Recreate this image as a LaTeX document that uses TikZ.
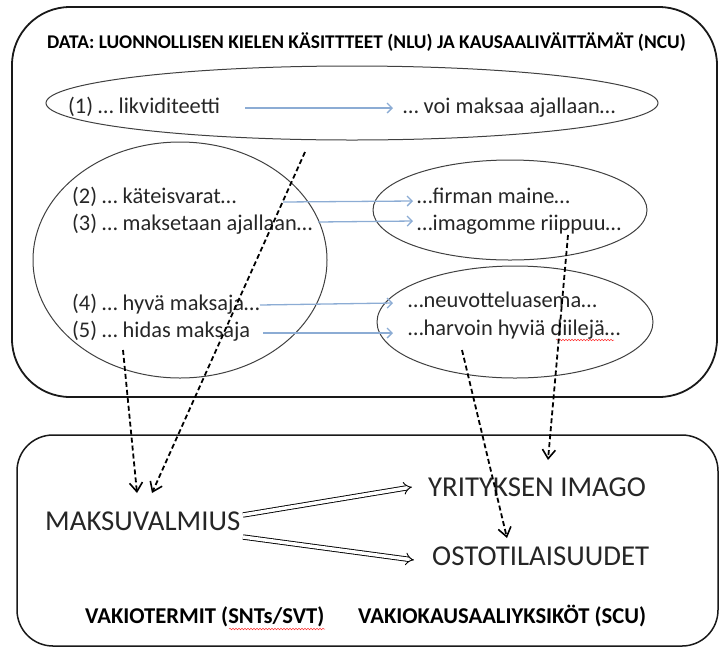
\documentclass[tikz,border=0pt]{standalone}
\usepackage{fontspec}
\setmainfont{Carlito}
\usetikzlibrary{arrows.meta,shapes.geometric,decorations.pathmorphing}
\definecolor{linkblue}{RGB}{140,172,212}
\definecolor{ink}{RGB}{38,38,38}
\begin{document}
\begin{tikzpicture}[x=1pt,y=-1pt,
  panel/.style={draw=black!90, line width=1.8pt},
  group/.style={draw=black!75, line width=1pt, ellipse, inner sep=0pt},
  datatext/.style={anchor=base west, inner sep=0pt, text=ink, font=\fontsize{22.4}{25}\selectfont},
  termtext/.style={anchor=base west, inner sep=0pt, text=ink, font=\fontsize{28.8}{32}\selectfont},
  caption/.style={anchor=base west, inner sep=0pt, text=black, font=\bfseries\fontsize{22.6}{25}\selectfont},
  link/.style={draw=linkblue, line width=1.3pt, -{Straight Barb[length=5pt,width=10pt]}},
  derive/.style={draw=black, line width=1.8pt, dash pattern=on 5pt off 3pt,
    -{Straight Barb[length=9pt,width=13pt,line width=1.6pt]}},
  entail/.style={draw=black, double, double distance=3.5pt, line width=0.9pt,
    -{Implies[length=7pt]}},
  spell/.style={draw=red!80, line width=0.5pt, decorate,
    decoration={snake, amplitude=0.8pt, segment length=3pt}}
]
\useasboundingbox (0,0) rectangle (720,649);

% data panel and term panel
\draw[panel, rounded corners=58pt] (12,7) rectangle (717,397);
\draw[panel, line width=1.5pt, rounded corners=36pt] (17,435) rectangle (718,646);

\node[caption, font=\bfseries\fontsize{19.4}{22}\selectfont] (title) at (47,48)
  {DATA: LUONNOLLISEN KIELEN KÄSITTTEET (NLU) JA KAUSAALIVÄITTÄMÄT (NCU)};

% groups of statements
\node[group, minimum width=612pt, minimum height=74pt] (e1) at (352,103) {};
\node[group, minimum width=294pt, minimum height=236pt] (e2) at (180,260) {};
\node[group, minimum width=274pt, minimum height=100pt] (e3) at (510,210) {};
\node[group, minimum width=276pt, minimum height=112pt] (e4) at (515,322) {};

% natural language units
\node[datatext] (s1) at (68,113) {(1) … likviditeetti};
\node[datatext] (c1) at (403,113) {… voi maksaa ajallaan…};
\node[datatext] (s2) at (72,203) {(2) … käteisvarat…};
\node[datatext] (s3) at (72,230) {(3) … maksetaan ajallaan…};
\node[datatext] (s4) at (72,310) {(4) … hyvä maksaja…};
\node[datatext] (s5) at (72,337) {(5) … hidas maksaja};
\node[datatext] (c2) at (417,203) {…firman maine…};
\node[datatext] (c3) at (417,230) {…imagomme riippuu…};
\node[datatext] (c4) at (408,307) {…neuvotteluasema…};
\node[datatext] (c5) at (408,335) {…harvoin hyviä diilejä…};

% standard terms
\node[termtext] (mk) at (45,530) {MAKSUVALMIUS};
\node[termtext] (yi) at (428,496) {YRITYKSEN IMAGO};
\node[termtext] (os) at (432,565) {OSTOTILAISUUDET};
\node[caption] (vt) at (85,623) {VAKIOTERMIT (SNTs/SVT)};
\node[caption] (vk) at (358,623) {VAKIOKAUSAALIYKSIKÖT (SCU)};

% spell-check marks
\coordinate (sp1a) at (556,340); \coordinate (sp1b) at (614,340);
\coordinate (sp2a) at (229,629); \coordinate (sp2b) at (325,629);
\draw[spell] (sp1a) -- (sp1b);
\draw[spell] (sp2a) -- (sp2b);

% causal links inside the data
\coordinate (l1a) at (245,108); \coordinate (l1b) at (393,108);
\coordinate (l2a) at (283,202); \coordinate (l2b) at (413,201);
\coordinate (l3a) at (318,222); \coordinate (l3b) at (413,221);
\coordinate (l4a) at (260,305); \coordinate (l4b) at (393,303);
\coordinate (l5a) at (263,333); \coordinate (l5b) at (393,333);
\draw[link] (l1a) -- (l1b);
\draw[link] (l2a) -- (l2b);
\draw[link] (l3a) -- (l3b);
\draw[link] (l4a) -- (l4b);
\draw[link] (l5a) -- (l5b);

% derivation of standard terms
\coordinate (dA) at (123,350); \coordinate (tA) at (137,493);
\coordinate (dB) at (305,152); \coordinate (tB) at (152,493);
\coordinate (dC) at (462,350); \coordinate (tC) at (507,538);
\coordinate (dD) at (568,235); \coordinate (tD) at (548,460);
\draw[derive] (dA) -- (tA);
\draw[derive] (dB) -- (tB);
\draw[derive] (dC) -- (tC);
\draw[derive] (dD) -- (tD);

% standard causal units
\coordinate (u1a) at (243,515); \coordinate (u1b) at (412,487);
\coordinate (u2a) at (243,537); \coordinate (u2b) at (414,560);
\draw[entail] (u1a) -- (u1b);
\draw[entail] (u2a) -- (u2b);
\end{tikzpicture}
\end{document}
